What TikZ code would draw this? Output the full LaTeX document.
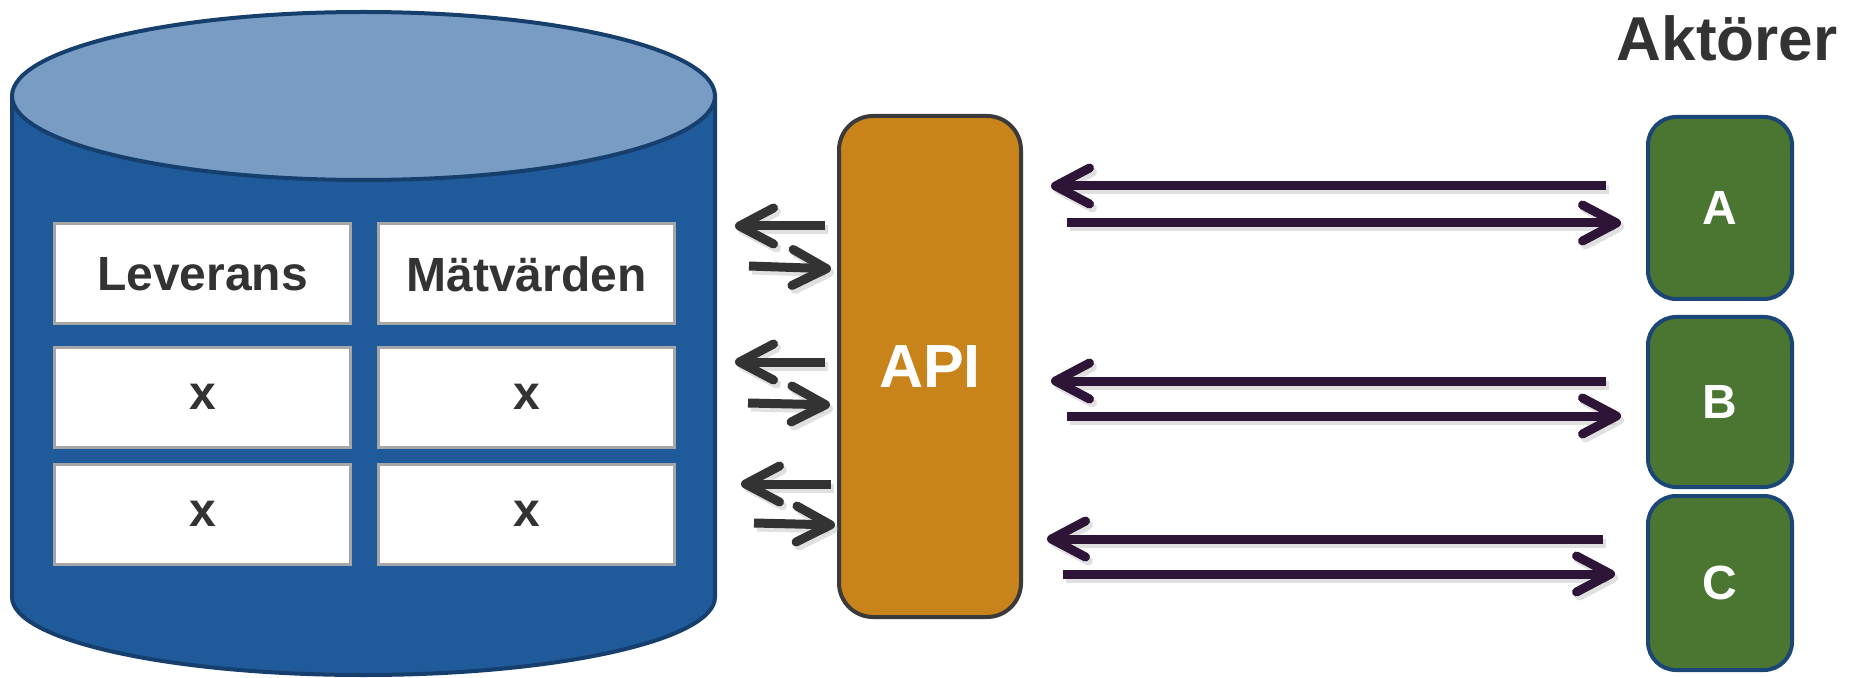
\documentclass[tikz,border=0pt]{standalone}
\usepackage{fontspec}
\setmainfont{Liberation Sans}
\usetikzlibrary{arrows.meta,positioning}

\definecolor{dbblue}{HTML}{1F5A9A}
\definecolor{dbtop}{HTML}{789CC4}
\definecolor{dbline}{HTML}{173F6D}
\definecolor{cellgrey}{HTML}{A6A6A6}
\definecolor{txtgrey}{HTML}{333333}
\definecolor{apiorange}{HTML}{C8841A}
\definecolor{apiline}{HTML}{3A3A3A}
\definecolor{actgreen}{HTML}{4A7632}
\definecolor{actline}{HTML}{1B4778}
\definecolor{linkpurple}{HTML}{2E1437}

\begin{document}
\begin{tikzpicture}[x=0.5pt,y=-0.5pt,
    cell/.style={rectangle,draw=cellgrey,line width=1.5pt,fill=white,
                 minimum width=148pt,minimum height=50pt,inner sep=0pt,
                 text=txtgrey,font=\fontsize{24}{28}\selectfont\bfseries},
    api box/.style={rectangle,rounded corners=17pt,draw=apiline,line width=2pt,
                 fill=apiorange,minimum width=91pt,minimum height=250.5pt,
                 text=white,font=\fontsize{30.5}{36}\selectfont\bfseries},
    actor/.style={rectangle,rounded corners=14pt,draw=actline,line width=2pt,
                 fill=actgreen,minimum width=72pt,inner sep=0pt,
                 text=white,font=\fontsize{24}{28}\selectfont\bfseries},
    arrowshadow/.style={preaction={draw=black!30,opacity=0.4,
                 transform canvas={shift={(1.5pt,-2pt)}}}},
    dbarrow/.style={color=txtgrey,line width=4.5pt,
                 -{Straight Barb[round,length=17pt,width=18pt]},
                 every edge/.append style={arrowshadow}},
    link/.style={color=linkpurple,line width=4.5pt,
                 -{Straight Barb[round,length=17pt,width=18pt]},
                 every edge/.append style={arrowshadow}}]

  \useasboundingbox (0,0) rectangle (1850,678);

  % database
  \path[fill=dbblue,draw=dbline,line width=2pt]
    (12,96) -- (12,597) arc[start angle=180,end angle=0,x radius=351.5,y radius=78]
    -- (715,96) -- cycle;
  \draw[fill=dbtop,draw=dbline,line width=2pt] (363.5,96) ellipse[x radius=351.5,y radius=84];

  \node[cell] (lev) at (202.5,274) {Leverans};
  \node[cell] (mat) [right=12.5pt of lev] {Mätvärden};
  \node[cell] (x1) [below=10pt of lev] {x};
  \node[cell] (x2) [below=10pt of mat] {x};
  \node[cell] (x3) [below=7pt of x1] {x};
  \node[cell] (x4) [below=7pt of x2] {x};

  \node[api box] (api) at (930,366.5) {API};

  \node[actor, minimum height=91pt] (A) at (1720,208) {A};
  \node[actor, minimum height=85pt] (B) [below=7pt of A] {B};
  \node[actor, minimum height=87pt] (C) [below=2.5pt of B] {C};

  \node[anchor=base,text=txtgrey,font=\fontsize{31}{36}\selectfont\bfseries]
    (title) at (1727,61) {Aktörer};

  \coordinate (out1) at (735,226);
  \coordinate (in1)  at (749,266);
  \coordinate (out2) at (735,362);
  \coordinate (in2)  at (748,403);
  \coordinate (out3) at (741,484);
  \coordinate (in3)  at (754,523);

  \path[dbarrow]
	(api.west |- out1) edge[shorten <=6pt] (out1)
	(in1) edge[shorten >=3pt] (api.west |- 0,269)
	(api.west |- out2) edge[shorten <=6pt] (out2)
	(in2) edge[shorten >=3.5pt] (api.west |- 0,405)
	(api.west |- out3) edge[shorten <=3pt] (out3)
	(in3) edge[shorten >=1pt] (api.west |- 0,525);

  \path[link]
	(A.west |- 0,186) edge[shorten <=20pt,shorten >=14pt] (api.east |- 0,186)
	(api.east |- 0,223) edge[shorten <=22pt,shorten >=12.5pt] (A.west |- 0,223)
	(B.west |- 0,381) edge[shorten <=20pt,shorten >=14pt] (api.east |- 0,381)
	(api.east |- 0,416) edge[shorten <=22pt,shorten >=12.5pt] (B.west |- 0,416)
	(C.west |- 0,539) edge[shorten <=21.5pt,shorten >=12pt] (api.east |- 0,539)
	(api.east |- 0,574) edge[shorten <=20pt,shorten >=15.5pt] (C.west |- 0,574);

\end{tikzpicture}
\end{document}
